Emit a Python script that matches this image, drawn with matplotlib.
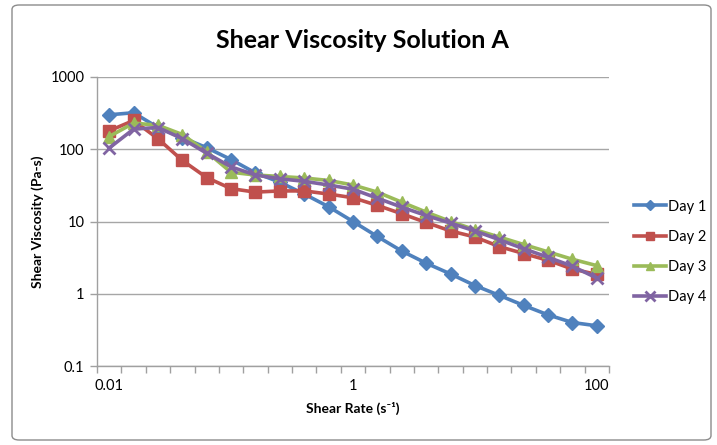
import matplotlib
matplotlib.use("Agg")
import matplotlib.pyplot as plt
from matplotlib.patches import FancyBboxPatch

plt.rcParams['font.family'] = ['Lato', 'DejaVu Sans']

shear_rate = ["0.01", "0.0158", "0.0251", "0.0398", "0.0631", "0.1", "0.158", "0.251",
              "0.398", "0.631", "1", "1.58", "2.51", "3.98", "6.31", "10", "15.8",
              "25.1", "39.8", "63.1", "100"]
day1 = [300, 320, 200, 145, 105, 72, 47, 35, 24, 16, 10, 6.2, 3.9, 2.65, 1.88, 1.3,
        0.95, 0.69, 0.51, 0.40, 0.36]
day2 = [180, 250, 140, 70, 40.5, 28.5, 25.5, 26.5, 26.5, 24, 21.3, 16.7, 12.8, 9.7,
        7.4, 6.1, 4.5, 3.6, 2.9, 2.2, 1.85]
day3 = [150, 230, 215, 160, 92, 48, 44, 42, 40, 37, 32, 25.5, 18.5, 13.5, 10, 7.7,
        6.1, 4.8, 3.8, 3.0, 2.45]
day4 = [104, 190, 200, 140, 88, 57, 44, 39, 36, 32, 28, 21, 15.8, 12.1, 9.5, 7.4,
        5.6, 4.2, 3.2, 2.4, 1.65]
series_names = ["Day 1", "Day 2", "Day 3", "Day 4"]
y_ticks = [0.1, 1, 10, 100, 1000]
y_tick_labels = ["0.1", "1", "10", "100", "1000"]

colors = ["#4F81BD", "#C0504D", "#9BBB59", "#8064A2"]
markers = ["D", "s", "^", "x"]
msizes = [7, 8, 8, 9]

W, H = 717, 445
fig = plt.figure(figsize=(W / 100, H / 100), dpi=100)
ax = fig.add_axes([97 / W, 1 - 366 / H, (609 - 97) / W, (366 - 77) / H])

# chart border
border = FancyBboxPatch((12 / W, 5 / H), (711 - 12) / W, (440 - 5) / H,
                        boxstyle="round,pad=0,rounding_size=0.01",
                        transform=fig.transFigure, fill=False,
                        edgecolor="#8c8c8c", linewidth=1.0)
fig.patches.append(border)

xs = list(range(len(shear_rate)))
for vals, name, c, m, ms in zip([day1, day2, day3, day4], series_names, colors, markers, msizes):
    kw = dict(markeredgewidth=2) if m == "x" else dict(markeredgecolor=c)
    ax.plot(xs, vals, color=c, linewidth=2.6, marker=m, markersize=ms,
            markerfacecolor=c, label=name, **kw)

ax.set_yscale('log')
ax.set_ylim(0.1, 1000)
ax.set_xlim(-0.5, len(shear_rate) - 0.5)
ax.set_yticks(y_ticks)
ax.set_yticklabels(y_tick_labels)
ax.yaxis.set_minor_locator(matplotlib.ticker.NullLocator())
ax.set_xticks([0, 10, 20])
ax.set_xticklabels([shear_rate[0], shear_rate[10], shear_rate[20]])
ax.set_xticks([i - 0.5 for i in range(len(shear_rate) + 1)], minor=True)
ax.tick_params(axis='x', which='major', length=0, pad=9, labelsize=10.5, colors='#000000')
ax.tick_params(axis='x', which='minor', length=5, width=1, color='#a0a0a0', direction='out')
ax.tick_params(axis='y', which='major', length=5, width=1, color='#a0a0a0', direction='out',
               labelsize=10.5, pad=4)
ax.grid(axis='y', which='major', color='#a6a6a6', linewidth=1)
for s in ['top', 'right']:
    ax.spines[s].set_visible(False)
for s in ['left', 'bottom']:
    ax.spines[s].set_color('#a0a0a0')
    ax.spines[s].set_linewidth(1)
ax.set_axisbelow(True)

fig.text(362 / W, 1 - 40 / H, "Shear Viscosity Solution A", ha='center', va='center',
         fontsize=18, fontweight='bold')
ax.set_xlabel('Shear Rate (s\u207b\u00b9)', fontsize=10, fontweight='bold', labelpad=7)
ax.set_ylabel('Shear Viscosity (Pa-s)', fontsize=10, fontweight='bold', labelpad=5)

leg = fig.legend(loc='center left', bbox_to_anchor=(628 / W, 1 - 252 / H), frameon=False,
                 fontsize=10.5, handlelength=2.2, labelspacing=1.12, handletextpad=0.15,
                 borderaxespad=0, markerscale=0.75)

fig.savefig("out.png", dpi=100)
